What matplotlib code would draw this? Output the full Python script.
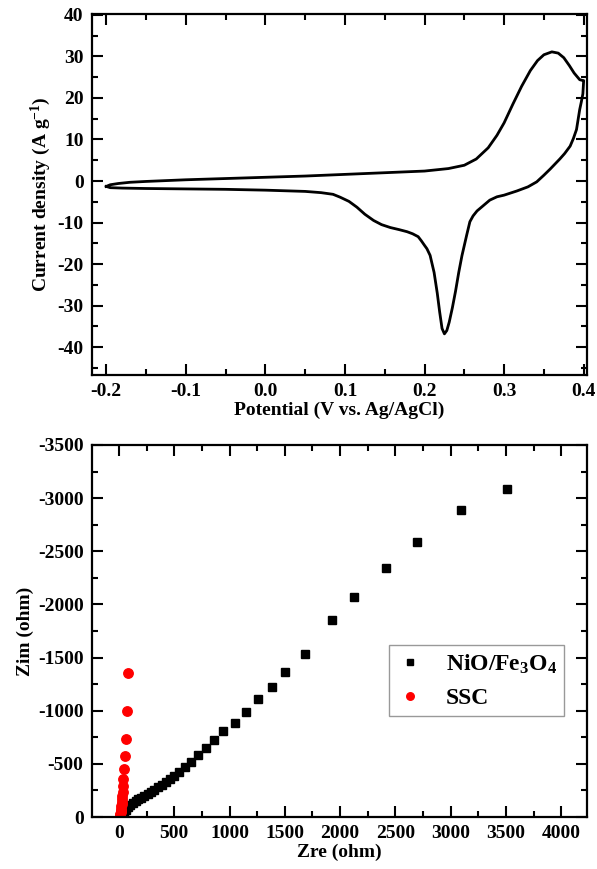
import matplotlib
matplotlib.use("Agg")
import matplotlib.pyplot as plt
from matplotlib.ticker import AutoMinorLocator, MultipleLocator

# cyclic voltammetry loop: forward (anodic) sweep then reverse sweep
cv_potential = [
    -0.200, -0.195, -0.185, -0.170, -0.150, -0.100, -0.050, 0.000, 0.050, 0.100,
    0.150, 0.200, 0.230, 0.250, 0.265, 0.280, 0.291, 0.300, 0.311, 0.322,
    0.333, 0.342, 0.350, 0.360, 0.368, 0.375, 0.382, 0.388, 0.395, 0.399,
    0.400, 0.399, 0.397, 0.395, 0.391, 0.387, 0.383, 0.376, 0.370, 0.358,
    0.350, 0.341, 0.330, 0.316, 0.300, 0.291, 0.282, 0.274, 0.266, 0.261,
    0.257, 0.253, 0.250, 0.247, 0.243, 0.239, 0.235, 0.231, 0.228, 0.225,
    0.222, 0.219, 0.216, 0.212, 0.207, 0.203, 0.200, 0.196, 0.192, 0.185,
    0.178, 0.168, 0.157, 0.146, 0.136, 0.125, 0.115, 0.105, 0.094, 0.085,
    0.070, 0.050, 0.000, -0.050, -0.100, -0.150, -0.180, -0.195, -0.200,
]
cv_current = [
    -1.3, -0.9, -0.6, -0.3, -0.1, 0.3, 0.6, 0.9, 1.2, 1.6,
    2.0, 2.4, 3.0, 3.8, 5.3, 8.0, 11.0, 14.0, 18.5, 22.8,
    26.6, 29.0, 30.4, 31.1, 30.8, 29.7, 27.8, 26.0, 24.4, 24.2,
    24.2, 21.0, 19.0, 17.2, 12.4, 10.2, 8.4, 6.6, 5.3, 2.9,
    1.4, -0.2, -1.4, -2.4, -3.4, -3.8, -4.6, -5.9, -7.2, -8.4,
    -9.8, -13.0, -15.5, -18.0, -22.0, -26.5, -30.5, -34.0, -36.0, -36.8,
    -35.5, -31.5, -27.0, -22.0, -17.9, -16.3, -15.5, -14.4, -13.4, -12.7,
    -12.2, -11.7, -11.2, -10.5, -9.5, -8.0, -6.3, -4.9, -3.9, -3.2,
    -2.8, -2.5, -2.2, -2.0, -1.9, -1.8, -1.7, -1.6, -1.3,
]

# Nyquist data
nio_zre = [36, 45, 60, 80, 100, 125, 150, 175, 200, 230, 260, 290, 320, 355,
           390, 425, 460, 500, 542, 597, 651, 714, 787, 859, 940, 1049, 1148,
           1257, 1383, 1501, 1682, 1926, 2125, 2414, 2694, 3092, 3508]
nio_zim = [-15, -45, -70, -95, -115, -135, -150, -165, -180, -200, -218, -238,
           -258, -280, -305, -330, -355, -385, -422, -469, -516, -582, -647,
           -722, -807, -882, -985, -1107, -1220, -1360, -1538, -1857, -2073,
           -2345, -2589, -2889, -3086]
ssc_zre = [10, 12, 14, 16, 18, 20, 22, 24, 26, 28, 30, 33, 36, 40, 45, 54, 63, 72, 81]
ssc_zim = [0, -15, -30, -45, -60, -80, -100, -120, -145, -170, -200, -240, -290,
           -356, -455, -572, -737, -994, -1351]

plt.rcParams['font.family'] = ['Liberation Serif', 'DejaVu Serif']
plt.rcParams['font.weight'] = 'bold'
plt.rcParams['axes.labelweight'] = 'bold'
plt.rcParams['axes.unicode_minus'] = False
plt.rcParams['mathtext.fontset'] = 'custom'
plt.rcParams['mathtext.rm'] = 'Liberation Serif:bold'
plt.rcParams['mathtext.it'] = 'Liberation Serif:bold'
plt.rcParams['mathtext.bf'] = 'Liberation Serif:bold'

FS = 14


def style_axes(ax):
    for sp in ax.spines.values():
        sp.set_linewidth(1.6)
    ax.xaxis.set_minor_locator(AutoMinorLocator(2))
    ax.yaxis.set_minor_locator(AutoMinorLocator(2))
    ax.tick_params(which='both', direction='in', top=True, right=True,
                   labelsize=FS, width=1.5, pad=6)
    ax.tick_params(which='major', length=8)
    ax.tick_params(which='minor', length=4.5)


fig = plt.figure(figsize=(5.97, 8.69), dpi=100)

ax1 = fig.add_axes([0.154, 0.5685, 0.829, 0.4155])
ax1.plot(cv_potential, cv_current, color='black', lw=2.0)
ax1.set_xlim(-0.218, 0.404)
ax1.set_ylim(-46.7, 40.24)
ax1.xaxis.set_major_locator(MultipleLocator(0.1))
ax1.yaxis.set_major_locator(MultipleLocator(10))
style_axes(ax1)
ax1.set_xlabel('Potential (V vs. Ag/AgCl)', fontsize=FS, labelpad=1)
ax1.set_ylabel('Current density (A g$^{-1}$)', fontsize=FS, labelpad=3)

ax2 = fig.add_axes([0.154, 0.0598, 0.829, 0.4282])
ax2.plot(nio_zre, nio_zim, 's', color='black', ms=5.8, label='NiO/Fe$_3$O$_4$')
ax2.plot(ssc_zre, ssc_zim, 'o', color='red', ms=6.8, label='SSC')
ax2.set_xlim(-244, 4231)
ax2.set_ylim(0, -3500)
ax2.xaxis.set_major_locator(MultipleLocator(500))
ax2.yaxis.set_major_locator(MultipleLocator(500))
style_axes(ax2)
ax2.set_xlabel('Zre (ohm)', fontsize=FS, labelpad=1)
ax2.set_ylabel('Zim (ohm)', fontsize=FS, labelpad=3)
leg = ax2.legend(loc='upper left', bbox_to_anchor=(0.6, 0.462), fontsize=17,
                 frameon=True, fancybox=False, edgecolor='gray',
                 markerscale=0.8, handlelength=1.2, handletextpad=0.9,
                 borderpad=0.3, labelspacing=0.5, borderaxespad=0)
leg.get_frame().set_linewidth(1.0)

fig.savefig('out.png', dpi=100)
